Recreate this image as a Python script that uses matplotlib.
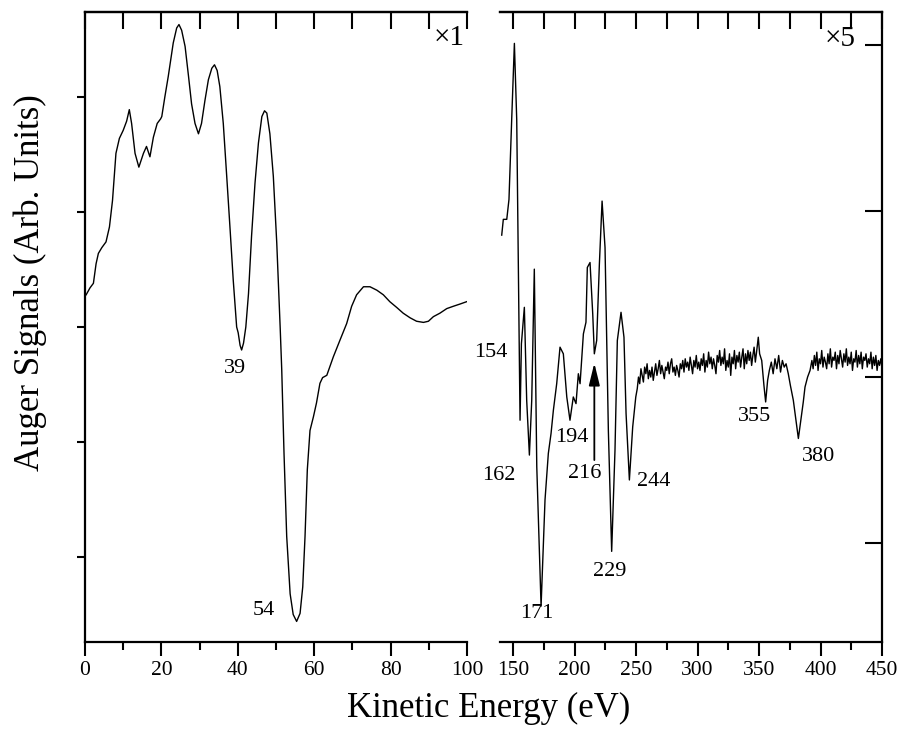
import numpy as np
import matplotlib.pyplot as plt

plt.rcParams['font.family'] = ['Liberation Serif', 'DejaVu Serif']

# Low energy region (x1)
left_ev = [0.3, 1.3, 2.2, 2.9, 3.5, 4.4, 5.5, 6.4, 7.2, 8.1, 9.0, 10.0, 10.9, 11.6,
           12.2, 13.1, 14.1, 15.3, 16.1, 17.0, 17.9, 18.9, 19.8, 20.1, 20.9, 21.8,
           23.1, 24.0, 24.6, 25.3, 26.2, 27.1, 27.9, 28.8, 29.7, 30.5, 31.4, 32.3,
           33.2, 33.9, 34.6, 35.3, 36.2, 37.1, 38.0, 38.8, 39.7, 40.1, 40.6, 41.0,
           41.5, 42.1, 42.8, 43.6, 44.5, 45.4, 46.3, 47.0, 47.6, 48.4, 49.3, 50.2,
           51.1, 51.5, 52.1, 52.8, 53.7, 54.5, 55.4, 56.3, 57.0, 57.6, 58.2, 58.9,
           59.8, 60.6, 61.5, 62.2, 63.3, 65.0, 66.8, 68.5, 69.8, 71.1, 72.9, 74.6,
           76.4, 78.1, 79.8, 81.6, 83.3, 85.1, 86.8, 88.6, 89.9, 91.2, 92.9, 94.7,
           96.4, 98.2, 99.9]
left_sig = [2.28, 2.34, 2.38, 2.55, 2.64, 2.69, 2.74, 2.87, 3.10, 3.51, 3.64, 3.71, 3.79, 3.89,
            3.77, 3.51, 3.39, 3.51, 3.57, 3.48, 3.65, 3.77, 3.81, 3.83, 4.00, 4.18,
            4.47, 4.60, 4.63, 4.58, 4.44, 4.18, 3.94, 3.77, 3.68, 3.77, 3.97, 4.15,
            4.25, 4.28, 4.23, 4.09, 3.77, 3.31, 2.84, 2.41, 2.00, 1.95, 1.84, 1.80,
            1.86, 2.00, 2.29, 2.79, 3.25, 3.60, 3.83, 3.88, 3.86, 3.68, 3.31, 2.73,
            1.99, 1.63, 0.90, 0.18, -0.32, -0.50, -0.56, -0.49, -0.26, 0.18, 0.76, 1.10,
            1.22, 1.34, 1.51, 1.56, 1.58, 1.74, 1.89, 2.03, 2.18, 2.28, 2.35, 2.35,
            2.32, 2.28, 2.22, 2.17, 2.12, 2.08, 2.05, 2.04, 2.05, 2.09, 2.12, 2.16,
            2.18, 2.20, 2.22]

# High energy region (x5): main structure
peak_ev = [140.8, 142.1, 144.9, 146.7, 148.9, 151.1, 153.0, 155.7, 156.8, 159.2,
           161.1, 163.3, 165.2, 167.3, 169.3, 172.8, 176.0, 178.7, 180.9, 182.8,
           185.5, 188.2, 190.9, 193.7, 196.3, 199.0, 201.2, 203.1, 204.5, 207.2,
           209.3, 210.4, 212.6, 214.8, 216.1, 218.0, 220.2, 222.4, 224.8, 227.5,
           230.2, 232.9, 234.8, 237.8, 240.2, 241.9, 244.6, 247.3, 248.4, 249.8]
peak_sig = [1.855, 1.95, 1.95, 2.07, 2.55, 3.01, 2.55, 0.74, 1.20, 1.42,
            0.86, 0.53, 0.86, 1.65, 0.46, -0.38, 0.26, 0.54, 0.66, 0.80,
            0.96, 1.18, 1.14, 0.88, 0.74, 0.88, 0.84, 1.02, 0.96, 1.26,
            1.33, 1.66, 1.69, 1.38, 1.14, 1.22, 1.68, 2.06, 1.78, 0.68,
            -0.05, 0.56, 1.22, 1.39, 1.24, 0.78, 0.38, 0.70, 0.78, 0.88]

# noisy plateau 251-348 eV (1 eV steps)
plat1_ev = list(range(251, 349))
plat1_sig = [0.93, 1.00, 0.96, 1.05, 1.01, 0.97, 1.06, 1.02, 1.08, 0.99,
             1.04, 1.00, 1.06, 0.98, 1.03, 1.08, 1.01, 1.05, 1.10, 1.02,
             1.07, 1.03, 0.99, 1.06, 1.04, 1.09, 1.02, 1.08, 1.11, 1.03,
             1.06, 1.01, 1.07, 1.04, 1.00, 1.08, 1.05, 1.10, 1.03, 1.11,
             1.06, 1.09, 1.04, 1.12, 1.07, 1.02, 1.10, 1.06, 1.13, 1.05,
             1.09, 1.04, 1.11, 1.07, 1.14, 1.03, 1.10, 1.06, 1.15, 1.08,
             1.12, 1.05, 1.11, 1.07, 1.02, 1.13, 1.09, 1.16, 1.07, 1.12,
             1.08, 1.17, 1.04, 1.10, 1.06, 1.14, 1.01, 1.12, 1.08, 1.16,
             1.05, 1.13, 1.09, 1.15, 1.06, 1.12, 1.17, 1.05, 1.14, 1.08,
             1.16, 1.10, 1.15, 1.07, 1.13, 1.18, 1.09, 1.15]

# 355 and 380 dips
dip_ev = [349.4, 350.5, 352.2, 354.0, 355.4, 357.0, 358.4, 360.0, 361.5, 363.0,
          364.5, 366.0, 367.5, 369.0, 370.5, 372.0, 373.8, 375.5, 377.9, 380.0,
          382.0, 384.7, 386.0, 387.4, 389.5, 391.5]
dip_sig = [1.24, 1.14, 1.10, 0.95, 0.85, 0.98, 1.04, 1.09, 1.02, 1.11,
           1.05, 1.13, 1.03, 1.10, 1.06, 1.08, 1.02, 0.95, 0.86, 0.74,
           0.63, 0.78, 0.85, 0.94, 1.00, 1.04]

# noisy plateau 393-450 eV (1 eV steps)
plat2_ev = list(range(393, 451))
plat2_sig = [1.10, 1.05, 1.13, 1.07, 1.15, 1.04, 1.11, 1.08, 1.16, 1.06,
             1.12, 1.09, 1.05, 1.14, 1.08, 1.17, 1.06, 1.12, 1.10, 1.15,
             1.05, 1.13, 1.08, 1.16, 1.11, 1.06, 1.14, 1.09, 1.17, 1.07,
             1.12, 1.08, 1.15, 1.04, 1.11, 1.09, 1.16, 1.06, 1.13, 1.08,
             1.15, 1.05, 1.12, 1.10, 1.14, 1.06, 1.11, 1.08, 1.15, 1.05,
             1.12, 1.07, 1.13, 1.04, 1.10, 1.07, 1.11, 1.06]

right_ev = peak_ev + plat1_ev + dip_ev + plat2_ev
right_sig = peak_sig + plat1_sig + dip_sig + plat2_sig

fig = plt.figure(figsize=(9.04, 7.38), dpi=100)
ax1 = fig.add_axes([85/904, 96/738, 382/904, 630/738])
ax2 = fig.add_axes([500/904, 96/738, 382/904, 630/738])

lw_spine = 1.6

# left panel
ax1.plot(left_ev, left_sig, color='k', lw=1.0)
ax1.set_xlim(0, 100)
ax1.set_ylim(-0.739, 4.739)
ax1.spines['right'].set_visible(False)
for s in ['left', 'top', 'bottom']:
    ax1.spines[s].set_linewidth(lw_spine)
ax1.set_xticks(np.arange(0, 101, 20))
ax1.set_xticks(np.arange(10, 100, 20), minor=True)
ax1.set_yticks([0, 1, 2, 3, 4])
ax1.set_yticklabels([])
ax1.tick_params(axis='x', which='major', direction='out', length=10, width=1.5, labelsize=15.5, pad=4)
ax1.tick_params(axis='x', which='minor', direction='out', length=6, width=1.5)
ax1.tick_params(axis='y', direction='out', length=6, width=1.5)
top1 = ax1.secondary_xaxis('top')
top1.set_xticks(np.arange(0, 101, 10))
top1.tick_params(direction='in', length=12, width=1.5, labeltop=False)
top1.spines['top'].set_linewidth(lw_spine)

ax1.text(39.3, 1.643, '39', fontsize=16, ha='center', va='center')
ax1.text(46.9, -0.461, '54', fontsize=16, ha='center', va='center')
ax1.text(95.3, 4.513, '\u00d71', fontsize=21, ha='center', va='center')

# right panel
ax2.plot(right_ev, right_sig, color='k', lw=1.0)
ax2.set_xlim(139.4, 450)
ax2.set_ylim(-0.596, 3.199)
ax2.spines['left'].set_visible(False)
for s in ['right', 'top', 'bottom']:
    ax2.spines[s].set_linewidth(lw_spine)
ax2.set_xticks(np.arange(150, 451, 50))
ax2.set_xticks(np.arange(175, 450, 50), minor=True)
ax2.yaxis.tick_right()
ax2.set_yticks([0, 1, 2, 3])
ax2.set_yticklabels([])
ax2.tick_params(axis='x', which='major', direction='out', length=10, width=1.5, labelsize=15.5, pad=4)
ax2.tick_params(axis='x', which='minor', direction='out', length=6, width=1.5)
ax2.tick_params(axis='y', direction='in', length=12, width=1.5)
top2 = ax2.secondary_xaxis('top')
top2.set_xticks(np.arange(150, 451, 25))
top2.tick_params(direction='in', length=12, width=1.5, labeltop=False)
top2.spines['top'].set_linewidth(lw_spine)

peaks = [('154', 132.1, 1.145), ('162', 138.6, 0.404), ('171', 169.3, -0.422),
         ('194', 197.7, 0.633), ('216', 208.5, 0.416), ('229', 228.9, -0.173),
         ('244', 264.6, 0.369), ('355', 346.7, 0.761), ('380', 398.2, 0.52)]
for lab, xv, yv in peaks:
    ax2.text(xv, yv, lab, fontsize=16, ha='center', va='center', clip_on=False)
ax2.text(415.9, 3.036, '\u00d75', fontsize=21, ha='center', va='center')
ax2.annotate('', xy=(216.1, 1.084), xytext=(216.1, 0.5),
             arrowprops=dict(arrowstyle='-|>,head_length=0.9,head_width=0.22',
                             color='k', lw=1.3, mutation_scale=15, shrinkA=0, shrinkB=0))

fig.text(489/904, 1 - 708/738, 'Kinetic Energy (eV)', fontsize=25, ha='center', va='center')
fig.text(30/904, 1 - 283/738, 'Auger Signals (Arb. Units)', fontsize=25,
         ha='center', va='center', rotation=90)

fig.savefig('out.png', dpi=100)
